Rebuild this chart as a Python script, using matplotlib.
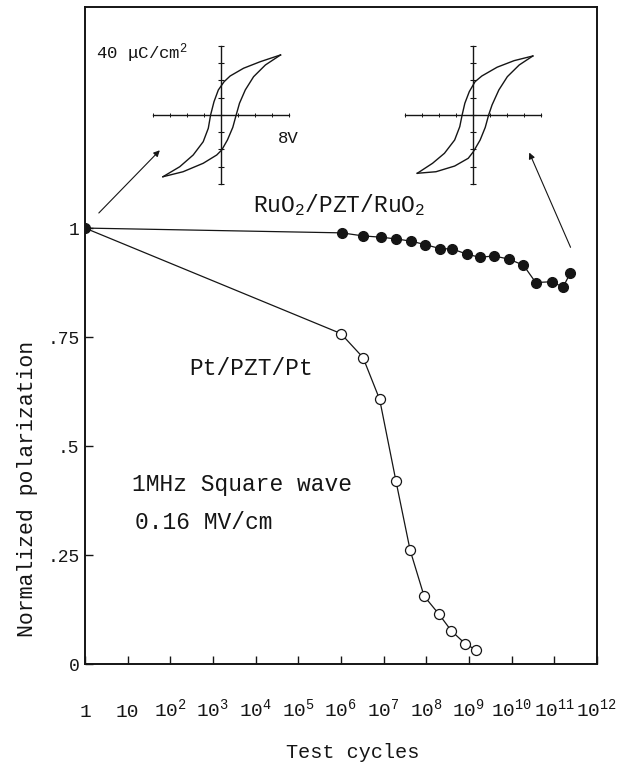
import matplotlib
matplotlib.use("Agg")
import matplotlib.pyplot as plt

plt.rcParams['font.family'] = ['Liberation Mono', 'DejaVu Sans']
plt.rcParams['mathtext.fontset'] = 'custom'
plt.rcParams['mathtext.rm'] = 'Liberation Mono'
plt.rcParams['mathtext.it'] = 'Liberation Mono'
plt.rcParams['mathtext.bf'] = 'Liberation Mono:bold'

ink = '#151515'

# fatigue data
ru_cycles = [1, 1.05e6, 3.3e6, 8.9e6, 2.0e7, 4.4e7, 9.5e7, 2.1e8, 4.1e8, 9.1e8,
             1.8e9, 3.9e9, 8.5e9, 1.9e10, 3.7e10, 9.1e10, 1.6e11, 2.4e11]
ru_pol = [1.0, 0.989, 0.982, 0.979, 0.975, 0.970, 0.962, 0.953, 0.952, 0.940,
          0.933, 0.936, 0.929, 0.915, 0.875, 0.877, 0.864, 0.897]

pt_cycles = [1, 1.0e6, 3.3e6, 8.1e6, 1.95e7, 4.2e7, 8.9e7, 2.0e8, 3.9e8, 8.3e8, 1.5e9]
pt_pol = [1.0, 0.758, 0.703, 0.607, 0.420, 0.261, 0.156, 0.114, 0.076, 0.046, 0.032]

x_ticks = [10.0 ** k for k in range(13)]
x_labels = ['1', '10'] + [r'$10^{%d}$' % k for k in range(2, 13)]
y_ticks = [0, 0.25, 0.5, 0.75, 1.0]
y_labels = ['0', '.25', '.5', '.75', '1']

# hysteresis loops (V, uC/cm2)
fresh_up_v = [7.04, 4.66, 2.69, 1.11, 0.40, -0.28, -0.79, -1.19, -1.46, -2.06, -3.24, -4.82, -6.80]
fresh_up_p = [34.8, 30.9, 27.1, 22.6, 19.3, 14.5, 7.7, 0.0, -7.7, -15.5, -23.2, -30.0, -35.8]
fresh_dn_v = [-6.80, -4.43, -2.06, -0.47, 0.12, 0.79, 1.42, 1.82, 2.21, 2.89, 3.87, 5.26, 7.04]
fresh_dn_p = [-35.8, -32.9, -28.0, -23.2, -20.3, -14.5, -7.2, 0.0, 6.8, 14.5, 22.2, 29.0, 34.8]

tired_up_v = [7.08, 4.88, 2.88, 1.08, 0.28, -0.40, -0.92, -1.24, -1.52, -2.12, -3.32, -4.72, -6.52]
tired_up_p = [34.2, 31.5, 27.7, 22.6, 19.3, 13.5, 6.8, 0.0, -6.8, -14.5, -22.2, -28.0, -33.8]
tired_dn_v = [-6.52, -4.32, -2.12, -0.52, 0.08, 0.88, 1.48, 1.88, 2.28, 3.08, 4.08, 5.48, 7.08]
tired_dn_p = [-33.8, -32.9, -29.6, -25.1, -21.3, -14.5, -7.2, 0.0, 5.8, 14.5, 22.2, 29.0, 34.2]

fig = plt.figure(figsize=(6.39, 7.65), dpi=100)
ax = fig.add_axes([0.133, 0.132, 0.801, 0.8588])

ax.plot(ru_cycles, ru_pol, color=ink, lw=0.9, marker='o', ms=7,
        mfc=ink, mec=ink, zorder=3)
ax.plot(pt_cycles, pt_pol, color=ink, lw=0.9, marker='o', ms=7.2,
        mfc='white', mec=ink, mew=0.9, markevery=slice(1, None), zorder=2)

ax.set_xscale('log')
ax.set_xlim(1, 1e12)
ax.set_ylim(0, 1.507)
ax.minorticks_off()
ax.set_xticks(x_ticks, x_labels)
ax.set_yticks(y_ticks, y_labels)
ax.tick_params(axis='x', direction='in', length=5.5, width=1.0, pad=38,
               labelsize=14, top=False, colors=ink)
ax.tick_params(axis='y', direction='in', length=5.5, width=1.0, pad=4,
               labelsize=13, right=False, colors=ink)
for lbl in ax.get_xticklabels():
    lbl.set_va('baseline')
for sp in ax.spines.values():
    sp.set_linewidth(1.4)
    sp.set_color(ink)

ax.set_xlabel('Test cycles', fontsize=14.5, color=ink)
ax.xaxis.set_label_coords(0.523, -0.134)
ax.xaxis.label.set_va('center')
ax.set_ylabel('Normalized polarization', fontsize=15.5, color=ink)
ax.yaxis.set_label_coords(-0.113, 0.266)
ax.yaxis.label.set_va('center')

ax.text(0.496, 0.699, 'RuO$_2$/PZT/RuO$_2$', transform=ax.transAxes,
        ha='center', va='center', fontsize=16.5, color=ink)
ax.text(0.324, 0.4505, 'Pt/PZT/Pt', transform=ax.transAxes,
        ha='center', va='center', fontsize=16.5, color=ink)
ax.text(0.091, 0.2725, '1MHz Square wave', transform=ax.transAxes,
        ha='left', va='center', fontsize=16.5, color=ink)
ax.text(0.098, 0.216, '0.16 MV/cm', transform=ax.transAxes,
        ha='left', va='center', fontsize=16.5, color=ink)
ax.text(0.0215, 0.930, '40 μC/cm$^2$', transform=ax.transAxes,
        ha='left', va='center', fontsize=12.5, color=ink)
ax.text(0.377, 0.8006, '8V', transform=ax.transAxes,
        ha='left', va='center', fontsize=12.5, color=ink)

arrow = dict(arrowstyle='-|>', color=ink, lw=0.8, mutation_scale=9)
ax.annotate('', xy=(10 ** 1.80, 1.183), xytext=(1.9, 1.030), arrowprops=arrow)
ax.annotate('', xy=(10 ** 10.39, 1.179), xytext=(10 ** 11.41, 0.950), arrowprops=arrow)


def loop_inset(rect, up_v, up_p, dn_v, dn_p):
    ins = fig.add_axes(rect)
    ins.patch.set_alpha(0)
    ins.plot(up_v, up_p, color=ink, lw=1.0)
    ins.plot(dn_v, dn_p, color=ink, lw=1.0)
    ins.set_xlim(-8, 8)
    ins.set_ylim(-40, 40)
    ins.spines['left'].set_position('zero')
    ins.spines['bottom'].set_position('zero')
    ins.spines['top'].set_visible(False)
    ins.spines['right'].set_visible(False)
    for side in ('left', 'bottom'):
        ins.spines[side].set_linewidth(1.0)
        ins.spines[side].set_color(ink)
    ins.set_xticks(range(-8, 9, 2))
    ins.set_yticks(range(-40, 41, 10))
    ins.tick_params(axis='x', direction='inout', length=2.5, width=0.7,
                    labelbottom=False, colors=ink)
    ins.tick_params(axis='y', direction='inout', length=4, width=0.8,
                    labelleft=False, colors=ink)
    return ins


loop_inset([0.239, 0.7595, 0.2128, 0.1804], fresh_up_v, fresh_up_p, fresh_dn_v, fresh_dn_p)
loop_inset([0.6333, 0.7595, 0.2128, 0.1804], tired_up_v, tired_up_p, tired_dn_v, tired_dn_p)

fig.savefig('out.png', dpi=100, facecolor='white')
